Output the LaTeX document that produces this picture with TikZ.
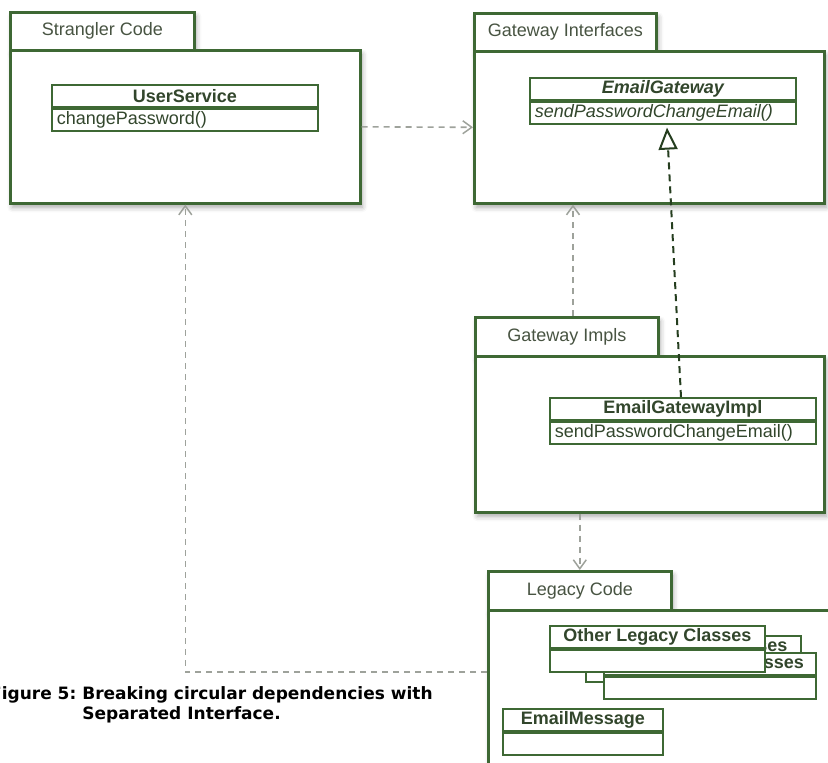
\documentclass[tikz,border=0pt]{standalone}
\usepackage{fontspec}
\setmainfont{Liberation Sans}
\newfontfamily\capfont{DejaVu Sans}
\usetikzlibrary{arrows.meta,calc,shadows.blur}

\definecolor{pkgline}{RGB}{62,104,52}
\definecolor{pkgtext}{RGB}{72,84,66}
\definecolor{clstext}{RGB}{50,70,44}
\definecolor{depline}{RGB}{158,162,155}

\tikzset{
  pkgshadow/.style={blur shadow={shadow xshift=2pt, shadow yshift=-4pt,
      shadow blur radius=5pt, shadow opacity=35}},
  pkgtab/.style={draw=pkgline, line width=2.6pt, fill=white, pkgshadow,
      anchor=north west, inner sep=0pt, text=pkgtext,
      font=\fontsize{18}{20}\selectfont},
  pkgbody/.style={draw=pkgline, line width=2.6pt, fill=white, pkgshadow,
      anchor=north west, inner sep=0pt},
  clshead/.style={draw=pkgline, line width=1.8pt, fill=white,
      minimum height=22pt, inner sep=0pt, text=clstext,
      font=\fontsize{18}{20}\selectfont\bfseries},
  clsops/.style={draw=pkgline, line width=1.8pt, fill=white,
      minimum height=22pt, inner xsep=5pt, inner ysep=0pt, text=clstext,
      font=\fontsize{18}{20}\selectfont, align=left, anchor=north},
  dep/.style={draw=depline, line width=1.6pt, dash pattern=on 6pt off 5pt,
      -{Straight Barb[length=9pt,width=13pt,line width=1.5pt]}},
  realize/.style={draw=pkgline!60!black, line width=2pt,
      dash pattern=on 7pt off 5pt,
      -{Triangle[open,length=22pt,width=19pt,line width=2pt]}},
}

\begin{document}
\begin{tikzpicture}[x=1pt,y=-1pt]
\useasboundingbox (0,0) rectangle (828,763);
\clip (0,0) rectangle (828,763);

% ---- Strangler Code package
\node[pkgtab, minimum width=184pt, minimum height=38pt] (sct) at (9,11) {Strangler Code};
\node[pkgbody, minimum width=350pt, minimum height=153pt] (scb) at (9,49) {};
\node[clshead, minimum width=266pt, anchor=north west] (us) at (51,84) {UserService};
\node[clsops, text width=256pt] (usops) at (us.south) {changePassword()};

% ---- Gateway Interfaces package
\node[pkgtab, minimum width=182pt, minimum height=38pt] (git) at (473,12) {Gateway Interfaces};
\node[pkgbody, minimum width=350pt, minimum height=152pt] (gib) at (473,50) {};
\node[clshead, minimum width=266pt, anchor=north west, font=\fontsize{18}{20}\selectfont\bfseries\itshape] (eg) at (529,77) {EmailGateway};
\node[clsops, text width=256pt, font=\fontsize{18}{20}\selectfont\itshape] (egops) at (eg.south) {sendPasswordChangeEmail()};

% ---- Gateway Impls package
\node[pkgtab, minimum width=183pt, minimum height=39pt] (gmt) at (474,316) {Gateway Impls};
\node[pkgbody, minimum width=349pt, minimum height=156pt] (gmb) at (474,355) {};
\node[clshead, minimum width=266pt, anchor=north west] (egi) at (549,397) {EmailGatewayImpl};
\node[clsops, text width=256pt] (egiops) at (egi.south) {sendPasswordChangeEmail()};

% ---- Legacy Code package
\node[pkgtab, minimum width=183pt, minimum height=39pt] (lct) at (487,570) {Legacy Code};
\node[pkgbody, minimum width=360pt, minimum height=170pt] (lcb) at (487,609) {};
% stacked legacy classes, back to front
\node[clshead, minimum width=215pt, anchor=north west] (olcb) at (585,635) {Other Legacy Classes};
\node[clsops, text width=205pt] (olcbops) at (olcb.south) {};
\node[clshead, minimum width=212pt, anchor=north west] (olcm) at (603,652) {Other Legacy Classes};
\node[clsops, text width=202pt] (olcmops) at (olcm.south) {};
\node[clshead, minimum width=215pt, anchor=north west] (olcf) at (549,625) {Other Legacy Classes};
\node[clsops, text width=205pt] (olcfops) at (olcf.south) {};
\node[clshead, minimum width=160pt, anchor=north west] (em) at (502,708) {EmailMessage};
\node[clsops, text width=150pt] (emops) at (em.south) {};

% ---- dependencies
\draw[dep] (scb.east) -- (gib.west);
\coordinate (implup) at ($(gmt.north west)+(99,0)$);
\draw[dep] (implup) -- (implup |- gib.south);
\draw[dep] (lct.north |- gmb.south) -- (lct.north);
\coordinate (legout) at ($(lcb.north west)+(0,63)$);
\draw[dep] (legout) -| (scb.south);

% ---- realization
\coordinate (realfrom) at ($(egi.north west)+(132,0)$);
\coordinate (realto) at ($(egops.south west)+(138,3)$);
\draw[realize] (realfrom) -- (realto);

% ---- caption
\node[anchor=base west, inner sep=0pt, font=\capfont\bfseries\fontsize{17}{20}\selectfont] (cap) at (-10,699)
  {\begin{tabular}[t]{@{}l@{}l@{}}Figure 5:\hspace{0.35em} & Breaking circular dependencies with\\ & Separated Interface.\end{tabular}};
\end{tikzpicture}
\end{document}
